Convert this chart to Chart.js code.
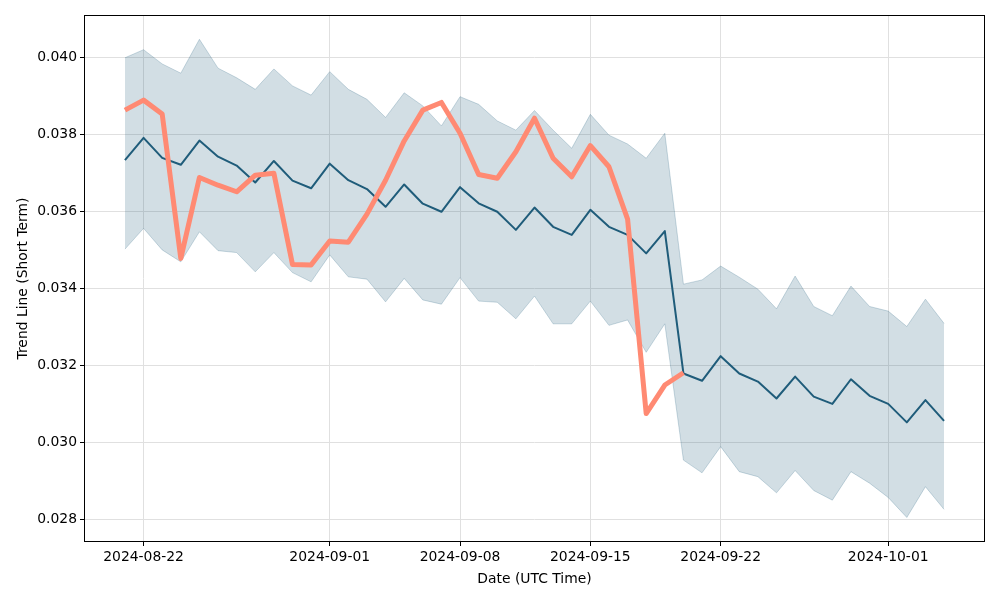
<!DOCTYPE html>
<html>
<head>
<meta charset="utf-8">
<script src="https://cdn.jsdelivr.net/npm/chart.js@4"></script>
<style>
html,body{margin:0;padding:0;background:#fff;}
#wrap{width:1000px;height:600px;position:relative;}
</style>
</head>
<body>
<div id="wrap"><canvas id="c" width="1000" height="600"></canvas></div>
<script>
// Day index 0 = 2024-08-21 ... 44 = 2024-10-04
const startDate = "2024-08-21";
const dayIndex = Array.from({length: 45}, (_, i) => i);

const priceValues = [
  0.03862, 0.03888, 0.03852, 0.03477, 0.03687, 0.03667, 0.03650, 0.03693, 0.03698, 0.03461,
  0.03460, 0.03522, 0.03519, 0.03592, 0.03680, 0.03782, 0.03862, 0.03882, 0.03802, 0.03695,
  0.03685, 0.03754, 0.03841, 0.03737, 0.03689, 0.03770, 0.03715, 0.03579, 0.03074, 0.03148,
  0.03180
];

const meanValues = [
  0.03732, 0.03790, 0.03738, 0.03720, 0.03783, 0.03741, 0.03718, 0.03674, 0.03730, 0.03679,
  0.03659, 0.03723, 0.03680, 0.03657, 0.03611, 0.03669, 0.03619, 0.03598, 0.03662, 0.03620,
  0.03598, 0.03551, 0.03609, 0.03559, 0.03538, 0.03603, 0.03559, 0.03538, 0.03490, 0.03548,
  0.03178, 0.03159, 0.03223, 0.03178, 0.03157, 0.03113, 0.03170, 0.03118, 0.03099, 0.03163,
  0.03120, 0.03099, 0.03051, 0.03109, 0.03055
];

const upperValues = [
  0.03998, 0.04019, 0.03982, 0.03958, 0.04046, 0.03971, 0.03946, 0.03916, 0.03969, 0.03925,
  0.03901, 0.03962, 0.03916, 0.03890, 0.03843, 0.03907, 0.03873, 0.03821, 0.03897, 0.03877,
  0.03834, 0.03810, 0.03861, 0.03810, 0.03763, 0.03851, 0.03797, 0.03774, 0.03737, 0.03802,
  0.03410, 0.03421, 0.03457, 0.03428, 0.03397, 0.03346, 0.03431, 0.03352, 0.03328, 0.03405,
  0.03352, 0.03340, 0.03300, 0.03371, 0.03308
];

const lowerValues = [
  0.03501, 0.03555, 0.03499, 0.03468, 0.03546, 0.03497, 0.03492, 0.03442, 0.03492, 0.03440,
  0.03416, 0.03486, 0.03429, 0.03423, 0.03364, 0.03425, 0.03369, 0.03358, 0.03427, 0.03366,
  0.03363, 0.03320, 0.03379, 0.03307, 0.03307, 0.03366, 0.03303, 0.03317, 0.03233, 0.03307,
  0.02953, 0.02920, 0.02988, 0.02923, 0.02910, 0.02868, 0.02926, 0.02874, 0.02849, 0.02923,
  0.02893, 0.02856, 0.02804, 0.02884, 0.02825
];

const xTickIndex = [1, 11, 18, 25, 32, 41];
const xTickLabels = ["2024-08-22", "2024-09-01", "2024-09-08", "2024-09-15", "2024-09-22", "2024-10-01"];
const yTickValues = [0.028, 0.030, 0.032, 0.034, 0.036, 0.038, 0.040];

const toPts = vals => vals.map((v, i) => ({x: dayIndex[i], y: v}));

const FONT = "'DejaVu Sans', sans-serif";
const fontSpec = {family: FONT, size: 13.9};

const framePlugin = {
  id: 'frame',
  afterDatasetsDraw(chart) {
    const a = chart.chartArea, ctx = chart.ctx;
    ctx.save();
    ctx.strokeStyle = '#000';
    ctx.lineWidth = 1;
    ctx.strokeRect(Math.round(a.left) + 0.5, Math.round(a.top) + 0.5,
                   Math.round(a.right - a.left) - 1, Math.round(a.bottom - a.top) - 1);
    ctx.restore();
  }
};

new Chart(document.getElementById('c'), {
  type: 'line',
  data: {
    datasets: [
      {
        label: 'Price',
        data: toPts(priceValues),
        borderColor: '#ff8a73',
        borderWidth: 5,
        pointRadius: 0,
        fill: false,
        tension: 0,
        borderJoinStyle: 'round',
        borderCapStyle: 'butt',
        order: 0
      },
      {
        label: 'Mean',
        data: toPts(meanValues),
        borderColor: '#1f5c7a',
        borderWidth: 2,
        pointRadius: 0,
        fill: false,
        tension: 0,
        borderJoinStyle: 'round',
        order: 1
      },
      {
        label: 'Upper',
        data: toPts(upperValues),
        borderColor: 'rgba(29,91,121,0.22)',
        borderWidth: 1,
        pointRadius: 0,
        backgroundColor: 'rgba(29,91,121,0.2)',
        fill: '+1',
        tension: 0,
        order: 2
      },
      {
        label: 'Lower',
        data: toPts(lowerValues),
        borderColor: 'rgba(29,91,121,0.22)',
        borderWidth: 1,
        pointRadius: 0,
        fill: false,
        tension: 0,
        order: 3
      }
    ]
  },
  options: {
    responsive: false,
    animation: false,
    devicePixelRatio: 1,
    layout: {padding: {top: 15, right: 15, left: 0, bottom: 0}},
    plugins: {legend: {display: false}, tooltip: {enabled: false}},
    scales: {
      x: {
        type: 'linear',
        min: -2.2,
        max: 46.2,
        afterBuildTicks: s => { s.ticks = xTickIndex.map(v => ({value: v})); },
        afterFit: s => { s.height = 58; },
        ticks: {
          font: fontSpec, color: '#000', padding: 3, maxRotation: 0,
          autoSkip: false,
          callback: (v) => { const k = xTickIndex.indexOf(v); return k >= 0 ? xTickLabels[k] : ''; }
        },
        grid: {color: '#e0e0e0', lineWidth: 1, tickColor: '#000', tickLength: 4, drawTicks: true},
        border: {display: false},
        title: {display: true, text: 'Date (UTC Time)', font: fontSpec, color: '#000', padding: {top: 4, bottom: 12}}
      },
      y: {
        type: 'linear',
        min: 0.027403,
        max: 0.041091,
        afterBuildTicks: s => { s.ticks = yTickValues.map(v => ({value: v})); },
        afterFit: s => { s.width = 84; },
        ticks: {
          font: fontSpec, color: '#000', padding: 3,
          callback: v => v.toFixed(3)
        },
        grid: {color: '#e0e0e0', lineWidth: 1, tickColor: '#000', tickLength: 4, drawTicks: true},
        border: {display: false},
        title: {display: true, text: 'Trend Line (Short Term)', font: fontSpec, color: '#000', padding: {top: 15, bottom: 0}}
      }
    }
  },
  plugins: [framePlugin]
});
</script>
</body>
</html>
